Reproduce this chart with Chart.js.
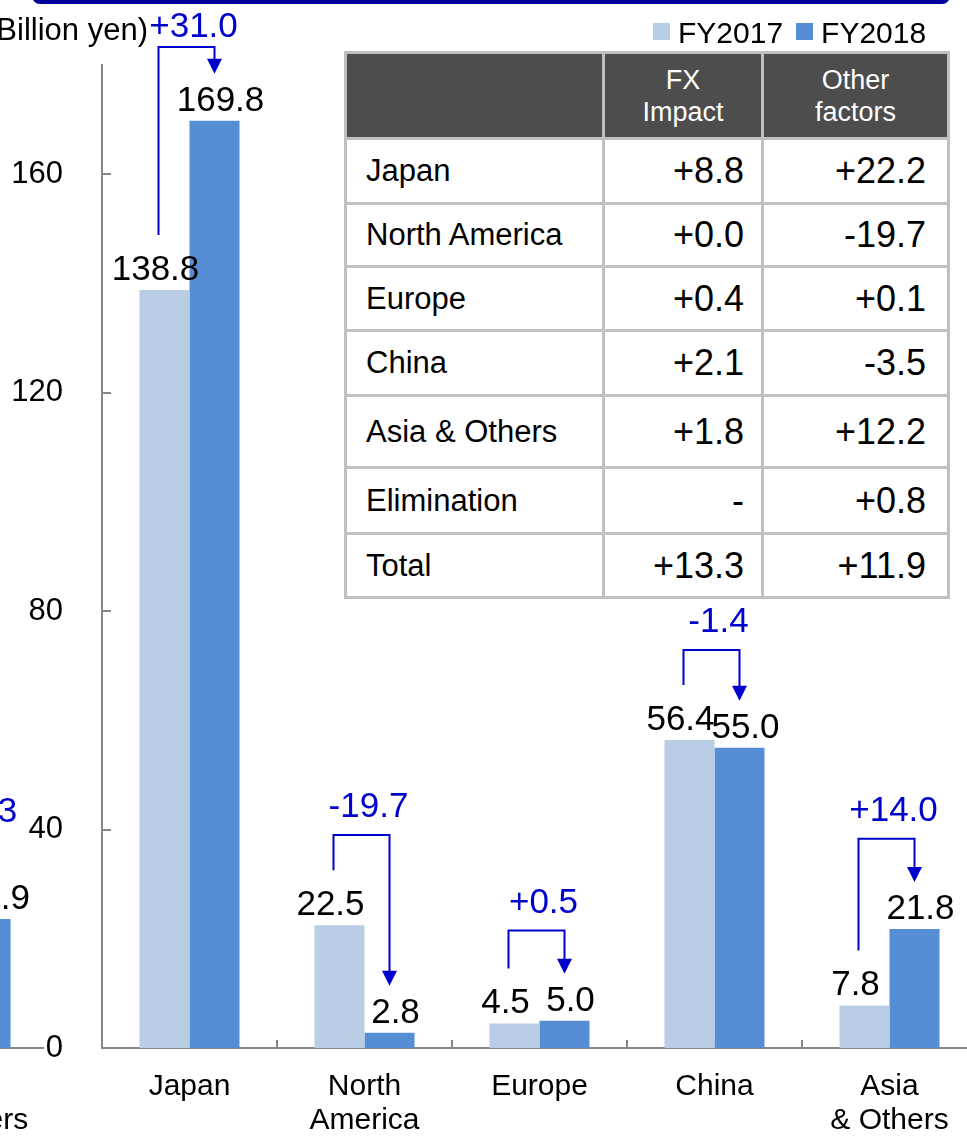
<!DOCTYPE html>
<html>
<head>
<meta charset="utf-8">
<script src="https://cdn.jsdelivr.net/npm/chart.js@4.4.1/dist/chart.umd.min.js"></script>
<style>
html,body{margin:0;padding:0;background:#fff;}
body{width:967px;height:1137px;overflow:hidden;position:relative;font-family:"Liberation Sans",Arial,sans-serif;}
#main{position:absolute;left:0;top:0;}
#left{position:absolute;left:-110px;top:0;}
#frame{position:absolute;left:32px;top:-40px;width:918px;height:44px;box-sizing:border-box;border:4px solid #00009C;border-radius:8px;}
#unit{position:absolute;right:819px;top:12px;font-size:31px;white-space:nowrap;color:#000;}
#legend{position:absolute;left:653px;top:14px;font-size:30px;color:#000;white-space:nowrap;}
#legend span.sw{display:inline-block;width:17px;height:17px;vertical-align:middle;margin-right:8px;position:relative;top:-2px;}
#legend span.tx{vertical-align:middle;margin-right:13px;}
#tbl{position:absolute;left:344px;top:51px;border-collapse:collapse;table-layout:fixed;background:#fff;}
#tbl td{border:3px solid #c0c0c0;padding:0;vertical-align:middle;color:#000;}
#tbl td.lab{font-size:31px;padding-left:19px;text-align:left;}
#tbl td.num{font-size:36px;text-align:right;}
#tbl td.c1{padding-right:17px;}
#tbl td.c2{padding-right:21px;}
#tbl tr.head td{background:#4d4d4d;color:#fff;font-size:27px;text-align:center;line-height:32px;}
</style>
</head>
<body>
<div id="frame"></div>
<canvas id="left" width="158" height="1137"></canvas>
<canvas id="main" width="990" height="1137"></canvas>
<div id="unit">(Billion yen)</div>
<div id="legend"></div>
<table id="tbl"></table>
<script>
// ---- data ----
const categories = [["Japan"], ["North", "America"], ["Europe"], ["China"], ["Asia", "& Others"]];
const fy2017 = [138.8, 22.5, 4.5, 56.4, 7.8];
const fy2018 = [169.8, 2.8, 5.0, 55.0, 21.8];
const yTicks = [0, 40, 80, 120, 160];
const seriesNames = ["FY2017", "FY2018"];

// partially visible neighbouring chart (cropped at the left edge)
const leftCategories = [["Asia", "& Others"]];
const leftFy2017 = [14.6];
const leftFy2018 = [26.9];

// table
const tableHeaders = ["", "FX\nImpact", "Other\nfactors"];
const tableRegions = ["Japan", "North America", "Europe", "China", "Asia & Others", "Elimination", "Total"];
const fxImpact = ["+8.8", "+0.0", "+0.4", "+2.1", "+1.8", "-", "+13.3"];
const otherFactors = ["+22.2", "-19.7", "+0.1", "-3.5", "+12.2", "+0.8", "+11.9"];

// ---- style ----
const FONT = '"Liberation Sans", Arial, sans-serif';
const C17 = '#B9CDE5', C18 = '#558ED5', BLUE = '#0000CC', AXIS = '#868686';
const rowHeights = [86, 65, 63, 64, 65, 72, 66, 64];
const colWidths = [258, 159, 186];
const labelShift = [-9, 6];

// legend
const lg = document.getElementById('legend');
[C17, C18].forEach((c, i) => {
  lg.innerHTML += '<span class="sw" style="background:' + c + '"></span><span class="tx">' + seriesNames[i] + '</span>';
});

// table
const tbl = document.getElementById('tbl');
let html = '<colgroup>' + colWidths.map(w => '<col style="width:' + w + 'px">').join('') + '</colgroup>';
html += '<tr class="head" style="height:' + rowHeights[0] + 'px">' + tableHeaders.map(h => '<td>' + h.replace('\n', '<br>') + '</td>').join('') + '</tr>';
tableRegions.forEach((r, i) => {
  html += '<tr style="height:' + rowHeights[i + 1] + 'px"><td class="lab">' + r + '</td><td class="num c1">' + fxImpact[i] + '</td><td class="num c2">' + otherFactors[i] + '</td></tr>';
});
tbl.innerHTML = html;

function fmtChange(d) {
  const s = Math.abs(d).toFixed(1);
  return (d >= 0 ? '+' : '-') + s;
}

const annot = {
  id: 'annot',
  afterDatasetsDraw(chart) {
    const ctx = chart.ctx;
    const ys = chart.scales.y, xs = chart.scales.x;
    const d17 = chart.data.datasets[0].data, d18 = chart.data.datasets[1].data;
    const m0 = chart.getDatasetMeta(0), m1 = chart.getDatasetMeta(1);
    ctx.save();
    // value labels
    ctx.font = '35px ' + FONT;
    ctx.fillStyle = '#000';
    ctx.textAlign = 'center';
    ctx.textBaseline = 'alphabetic';
    [m0, m1].forEach((m, di) => {
      m.data.forEach((bar, i) => {
        const v = chart.data.datasets[di].data[i];
        if (v == null) return;
        ctx.fillText(v.toFixed(1), bar.x + labelShift[di], bar.y - 10);
      });
    });
    // change brackets
    ctx.strokeStyle = BLUE;
    ctx.fillStyle = BLUE;
    ctx.lineWidth = 2;
    d18.forEach((v18, i) => {
      const v17 = d17[i];
      if (v17 == null || v18 == null) return;
      const b17 = m0.data[i], b18 = m1.data[i];
      const top = Math.max(chart.chartArea.top - 18, ys.getPixelForValue(Math.max(v17, v18) + 16.5));
      const xl = b17.x - 6, xr = b18.x;
      const tip = b18.y - 47;
      ctx.beginPath();
      ctx.moveTo(xl, b17.y - 55);
      ctx.lineTo(xl, top);
      ctx.lineTo(xr, top);
      ctx.lineTo(xr, tip - 14);
      ctx.stroke();
      ctx.beginPath();
      ctx.moveTo(xr - 7.5, tip - 15);
      ctx.lineTo(xr + 7.5, tip - 15);
      ctx.lineTo(xr, tip);
      ctx.closePath();
      ctx.fill();
      const ty = Math.max(top - 18, chart.chartArea.top - 28);
      ctx.fillText(fmtChange(Math.round((v18 - v17) * 10) / 10), xs.getPixelForValue(i) + 4, ty);
    });
    ctx.restore();
  },
  afterDraw(chart, args, opts) {
    if (!opts.innerTicks) return;
    const ctx = chart.ctx, ys = chart.scales.y, xs = chart.scales.x, a = chart.chartArea;
    ctx.save();
    ctx.strokeStyle = AXIS;
    ctx.lineWidth = 2;
    ctx.beginPath();
    yTicks.forEach(v => {
      const y = Math.round(ys.getPixelForValue(v));
      ctx.moveTo(a.left, y);
      ctx.lineTo(a.left + 9, y);
    });
    const n = chart.data.labels.length;
    for (let i = 1; i <= n; i++) {
      const x = Math.round(xs.getPixelForValue(i - 1) + (xs.getPixelForValue(1) - xs.getPixelForValue(0)) / 2);
      ctx.moveTo(x, a.bottom);
      ctx.lineTo(x, a.bottom - 8);
    }
    ctx.stroke();
    ctx.restore();
  }
};

function xAxis() {
  return {
    grid: {display: false, drawTicks: false},
    border: {display: true, color: AXIS, width: 2},
    ticks: {font: {size: 30, family: FONT, lineHeight: 1.12}, color: '#000', padding: 22, maxRotation: 0, autoSkip: false},
    afterFit(s) { s.height = 89; }
  };
}

new Chart(document.getElementById('main'), {
  type: 'bar',
  data: {
    labels: categories,
    datasets: [
      {label: seriesNames[0], data: fy2017, backgroundColor: C17},
      {label: seriesNames[1], data: fy2018, backgroundColor: C18}
    ]
  },
  options: {
    responsive: false, animation: false, devicePixelRatio: 1,
    layout: {padding: {top: 65, right: 13, left: 0, bottom: 0}},
    datasets: {bar: {categoryPercentage: 100 / 175, barPercentage: 1, borderWidth: 0}},
    plugins: {legend: {display: false}, tooltip: {enabled: false}, annot: {innerTicks: true}},
    scales: {
      x: xAxis(),
      y: {
        min: 0, max: 180,
        grid: {display: false, drawTicks: false},
        border: {display: true, color: AXIS, width: 2},
        ticks: {font: {size: 31, family: FONT}, color: '#000', padding: 39},
        afterBuildTicks(s) { s.ticks = yTicks.map(v => ({value: v})); },
        afterFit(s) { s.width = 102; }
      }
    }
  },
  plugins: [annot]
});

new Chart(document.getElementById('left'), {
  type: 'bar',
  data: {
    labels: leftCategories,
    datasets: [
      {label: seriesNames[0], data: leftFy2017, backgroundColor: C17},
      {label: seriesNames[1], data: leftFy2018, backgroundColor: C18}
    ]
  },
  options: {
    responsive: false, animation: false, devicePixelRatio: 1,
    layout: {padding: {top: 65, right: 0, left: 0, bottom: 0}},
    datasets: {bar: {categoryPercentage: 88 / 158, barPercentage: 1, borderWidth: 0}},
    plugins: {legend: {display: false}, tooltip: {enabled: false}, annot: {innerTicks: false}},
    scales: {
      x: xAxis(),
      y: {display: false, min: 0, max: 205}
    }
  },
  plugins: [annot]
});
</script>
</body>
</html>
